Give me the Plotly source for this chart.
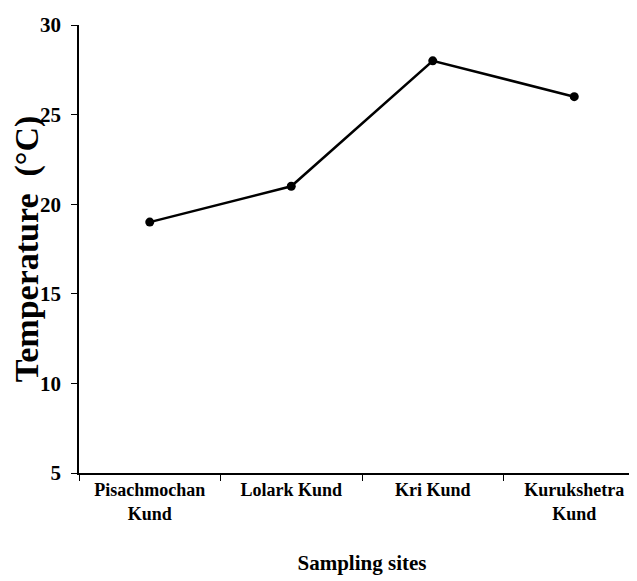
import plotly.graph_objects as go

sites = ["Pisachmochan<br>Kund", "Lolark Kund", "Kri Kund", "Kurukshetra<br>Kund"]
temperature = [19, 21, 28, 26]
y_ticks = [5, 10, 15, 20, 25, 30]

FONT = "Liberation Serif"

fig = go.Figure()
fig.add_trace(go.Scatter(
    x=sites, y=temperature, mode="lines+markers",
    line=dict(color="black", width=2.5),
    marker=dict(color="black", size=9, symbol="circle"),
    showlegend=False,
))

# page body has an 8px default margin, so offsets compensate for it
fig.update_layout(
    width=637, height=581,
    margin=dict(l=71, r=0, t=17, b=116),
    paper_bgcolor="white", plot_bgcolor="white",
    font=dict(family=FONT, color="black"),
)
fig.update_xaxes(
    type="category", range=[-0.5, 3.5], automargin=False,
    showline=True, linecolor="black", linewidth=1.5,
    ticks="outside", tickson="boundaries", ticklen=6, tickcolor="black", tickwidth=1,
    tickfont=dict(family=FONT, size=18, color="black", weight="bold"),
    title=dict(text="<b>Sampling sites</b>", font=dict(family=FONT, size=21, color="black"), standoff=33),
    showgrid=False, zeroline=False,
)
fig.update_yaxes(
    range=[5, 30], tickvals=y_ticks, ticktext=[str(v) for v in y_ticks], automargin=False,
    showline=True, linecolor="black", linewidth=1.5,
    ticks="outside", ticklen=6, tickcolor="black", tickwidth=1, ticklabelstandoff=6,
    tickfont=dict(family=FONT, size=21, color="black", weight="bold"),
    title=dict(text="<b>Temperature  (°C)</b>", font=dict(family=FONT, size=34, color="black"), standoff=14),
    showgrid=False, zeroline=False,
)

fig.write_html("out.html")
